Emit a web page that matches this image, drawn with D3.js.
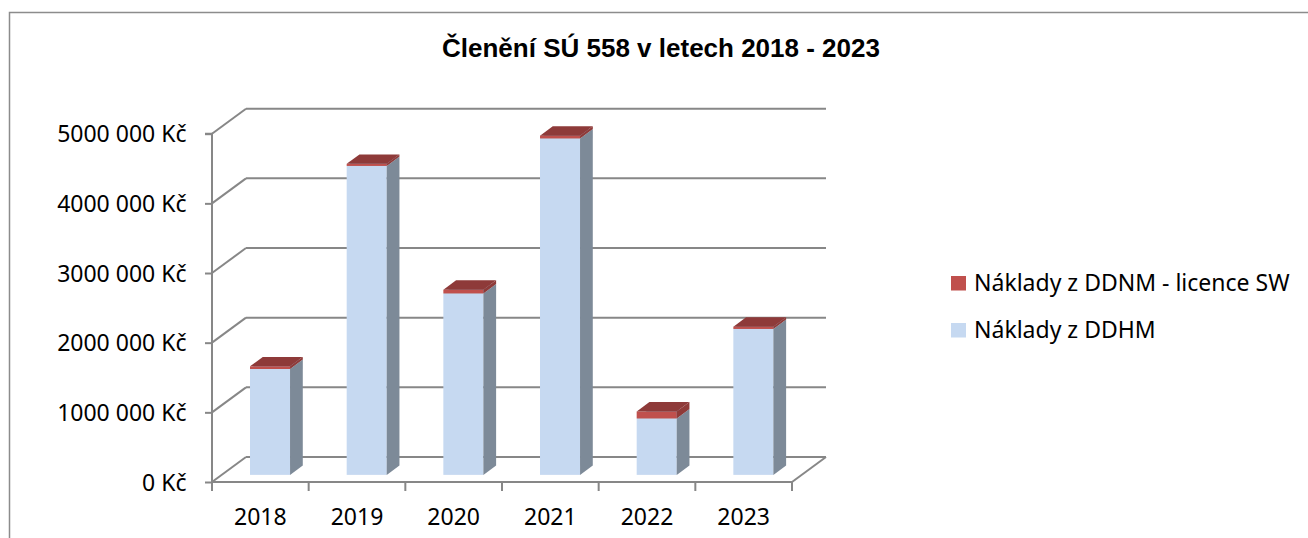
<!DOCTYPE html>
<html>
<head>
<meta charset="utf-8">
<script src="https://cdn.jsdelivr.net/npm/d3@7"></script>
<style>
  html, body { margin: 0; padding: 0; background: #fff; }
  svg { display: block; }
</style>
</head>
<body>
<svg id="chart" width="1308" height="538"></svg>
<script>
const title = "Členění SÚ 558 v letech 2018 - 2023";
const categories = ["2018", "2019", "2020", "2021", "2022", "2023"];
const seriesNames = ["Náklady z DDHM", "Náklady z DDNM - licence SW"];
const ddhm = [1520000, 4435000, 2605000, 4830000, 810000, 2095000];
const ddnm = [38000, 30000, 53000, 40000, 100000, 33000];
const yTicks = [0, 1000000, 2000000, 3000000, 4000000, 5000000];
const yTickLabels = ["0 Kč", "1000 000 Kč", "2000 000 Kč", "3000 000 Kč", "4000 000 Kč", "5000 000 Kč"];

const svg = d3.select("#chart");
const gridColor = "#878787";
const labelFont = "'Noto Sans', 'Open Sans', sans-serif";

// frame
svg.append("rect").attr("x", 9.5).attr("y", 12.5).attr("width", 1400).attr("height", 700)
  .attr("fill", "none").attr("stroke", "#8c8c8c").attr("stroke-width", 1.5);

// title
svg.append("text").attr("x", 661).attr("y", 57).attr("text-anchor", "middle")
  .style("font-family", "'Liberation Sans', Arial, sans-serif").style("font-weight", "bold")
  .style("font-size", "26px").attr("fill", "#000").text(title);

// geometry
const x0 = 212, x1 = 792;
const depthX = 34, depthY = 25;
const x = d3.scaleBand().domain(categories).range([x0, x1]).paddingInner(0).paddingOuter(0);
const y = d3.scaleLinear().domain([0, 5000000]).range([482, 133.7]);
const f1 = 0.285, f2 = 0.66;
const barFrac = 0.414;

// back wall gridlines + left side diagonals
const grid = svg.append("g").attr("stroke", gridColor).attr("stroke-width", 2).attr("fill", "none");
yTicks.forEach(v => {
  grid.append("line").attr("x1", x0 + depthX).attr("x2", x1 + depthX)
    .attr("y1", y(v) - depthY).attr("y2", y(v) - depthY);
  grid.append("line").attr("x1", x0).attr("y1", y(v))
    .attr("x2", x0 + depthX).attr("y2", y(v) - depthY);
});
// floor right diagonal
grid.append("line").attr("x1", x1).attr("y1", y(0)).attr("x2", x1 + depthX).attr("y2", y(0) - depthY);

// y axis
const yAxis = d3.axisLeft(y).tickValues(yTicks).tickSize(7).tickFormat((d, i) => yTickLabels[i]);
const gy = svg.append("g").attr("transform", `translate(${x0},0)`).call(yAxis);
gy.select(".domain").attr("stroke", gridColor).attr("stroke-width", 2).attr("d", `M-7,${y(5000000)}H0V${y(0)}`);
gy.selectAll(".tick line").attr("stroke", gridColor).attr("stroke-width", 2);
gy.selectAll(".tick text").attr("x", -25.5).attr("dy", "0.36em")
  .style("font-family", labelFont).style("font-size", "23px").attr("fill", "#000");

// x axis
const gx = svg.append("g").attr("transform", `translate(0,${y(0)})`)
  .call(d3.axisBottom(x).tickSize(0));
gx.select(".domain").attr("stroke", gridColor).attr("stroke-width", 2).attr("d", `M${x0},0H${x1}`);
gx.selectAll(".tick text").attr("y", 43).attr("dy", 0)
  .style("font-family", labelFont).style("font-size", "23px").attr("fill", "#000");
const boundaries = categories.map(c => x(c)).concat([x1]);
svg.append("g").selectAll("line").data(boundaries).join("line")
  .attr("x1", d => d).attr("x2", d => d).attr("y1", y(0)).attr("y2", y(0) + 9)
  .attr("stroke", gridColor).attr("stroke-width", 2);

// stacked data
const table = categories.map((c, i) => ({ cat: c, ddhm: ddhm[i], ddnm: ddnm[i] }));
const stack = d3.stack().keys(["ddhm", "ddnm"])(table);
const colors = {
  ddhm: { front: "#c6d9f1", side: "#7d8a98", top: "#a7b8cc" },
  ddnm: { front: "#c0504d", side: "#8f3a38", top: "#8e3a39" }
};

const bw = x.bandwidth() * barFrac;
const ox1 = depthX * f1, oy1 = depthY * f1;
const ddx = depthX * (f2 - f1), ddy = depthY * (f2 - f1);

const bars = svg.append("g");
stack.forEach(layer => {
  const col = colors[layer.key];
  layer.forEach(d => {
    const cat = d.data.cat;
    const xl = x(cat) + (x.bandwidth() - bw) / 2 + ox1;
    const xr = xl + bw;
    const yb = y(d[0]) - oy1;
    const yt = y(d[1]) - oy1;
    const g = bars.append("g");
    g.append("rect").attr("x", xl).attr("y", yt).attr("width", bw).attr("height", yb - yt)
      .attr("fill", col.front);
    g.append("path").attr("d", `M${xr},${yb}L${xr + ddx},${yb - ddy}L${xr + ddx},${yt - ddy}L${xr},${yt}Z`)
      .attr("fill", col.side);
    g.append("path").attr("d", `M${xl},${yt}L${xr},${yt}L${xr + ddx},${yt - ddy}L${xl + ddx},${yt - ddy}Z`)
      .attr("fill", col.top);
  });
});

// legend
const legendItems = [
  { name: seriesNames[1], color: colors.ddnm.front },
  { name: seriesNames[0], color: colors.ddhm.front }
];
const lg = svg.append("g");
legendItems.forEach((it, i) => {
  const by = 290.5 + i * 47;
  lg.append("rect").attr("x", 951).attr("y", by - 14.5).attr("width", 15).attr("height", 14.5)
    .attr("fill", it.color);
  lg.append("text").attr("x", 974).attr("y", by).text(it.name)
    .style("font-family", labelFont).style("font-size", "23px").attr("fill", "#000");
});
</script>
</body>
</html>
